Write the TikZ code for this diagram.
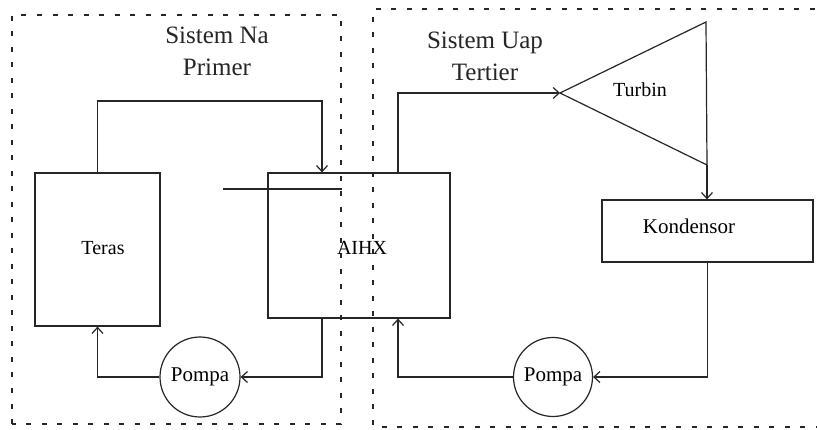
\documentclass[tikz,border=0pt]{standalone}
\usepackage{fontspec}
\setmainfont{Liberation Serif}
\usetikzlibrary{arrows.meta,calc}
\begin{document}
\begin{tikzpicture}[x=1pt,y=-1pt,
  line/.style={line width=1.2pt,draw=black!85},
  arr/.style={line,-{Straight Barb[length=6pt,width=11pt,line width=1.2pt]}},
  sysbox/.style={line width=2.6pt,draw=black!85,dash pattern=on 5pt off 10.5pt},
  unit/.style={line,rectangle,inner sep=0pt,font=\fontsize{20}{24}\selectfont},
  pump/.style={line,circle,inner sep=0pt,font=\fontsize{21}{24}\selectfont},
  title/.style={align=center,font=\fontsize{25}{32}\selectfont,text=black!85}]
\useasboundingbox (0,0) rectangle (817,430);
\fill[white] (0,0) rectangle (817,430);
% system boundaries
\draw[sysbox] (12,424) -- (12,15) -- (341,15) -- (341,424) -- cycle;
\draw[sysbox] (830,9) -- (373,9) -- (373,427) -- (830,427);
\node[title] (tna) at (217,51) {Sistem Na\\Primer};
\node[title] (tuap) at (485,56) {Sistem Uap\\Tertier};
% units
\node[unit,minimum width=125pt,minimum height=153pt] (teras) at (97.5,249.5) {};
\node[font=\fontsize{20}{24}\selectfont] (terasl) at (103,248) {Teras};
\node[unit,minimum width=182pt,minimum height=145pt] (aihx) at (359,245.5) {};
\node[font=\fontsize{20}{24}\selectfont] (aihxl) at (362,248) {AIHX};
\node[unit,minimum width=211pt,minimum height=62pt] (kond) at (707.5,231) {};
\node[font=\fontsize{21}{24}\selectfont] (kondl) at (689,226) {Kondensor};
\node[pump,minimum size=80pt] (pompa1) at (200,377) {Pompa};
\node[pump,minimum size=79pt] (pompa2) at (553,377) {Pompa};
% turbine
\coordinate (apex) at (560,93);
\coordinate (ttop) at (706,22);
\coordinate (tbot) at (707,165);
\draw[line] (apex) -- (ttop) -- (tbot) -- cycle;
\node[font=\fontsize{20}{24}\selectfont] (turbl) at (640,90) {Turbin};
% helper coordinates
\coordinate (c1) at (322,101);
\coordinate (c2) at (398,94);
\coordinate (s1) at (223,189);
\coordinate (s2) at (342,189);
% connectors
\draw[arr] (teras.north) |- (c1) -- (c1 |- aihx.north);
\draw[arr] (c1 |- aihx.south) |- (pompa1.east);
\draw[arr] (pompa1.west) -| (teras.south);
\draw[arr] (kond.south) |- (pompa2.east);
\draw[arr] (pompa2.west) -| (c2 |- aihx.south);
\draw[arr] (c2 |- aihx.north) |- (apex);
\draw[arr] (tbot) -- (tbot |- kond.north);
\draw[line] (s1) -- (s2);
\end{tikzpicture}
\end{document}
